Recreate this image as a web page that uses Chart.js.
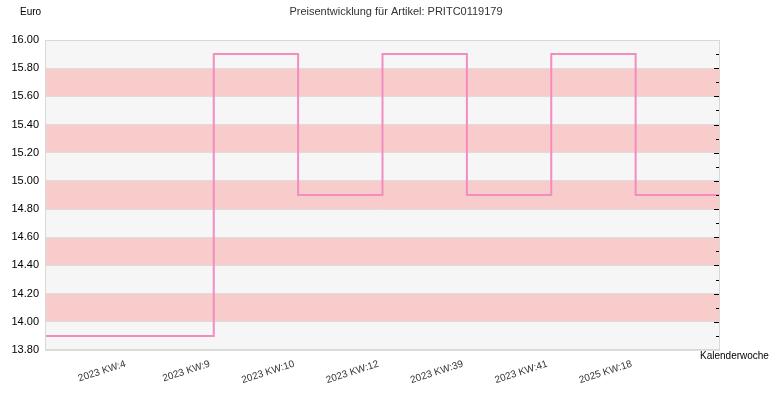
<!DOCTYPE html>
<html>
<head>
<meta charset="utf-8">
<script src="https://cdn.jsdelivr.net/npm/chart.js@4"></script>
<style>
html,body{margin:0;padding:0;background:#fff;}
#wrap{width:770px;height:400px;position:relative;}
</style>
</head>
<body>
<div id="wrap"><canvas id="c" width="770" height="400"></canvas></div>
<script>
const titleText = 'Preisentwicklung für Artikel: PRITC0119179';
const yAxisLabel = 'Euro';
const xAxisLabel = 'Kalenderwoche';
const weeks = ['2023 KW:4','2023 KW:9','2023 KW:10','2023 KW:12','2023 KW:39','2023 KW:41','2025 KW:18'];
const prices = [13.90, 15.90, 14.90, 15.90, 14.90, 15.90, 14.90];
const yMin = 13.80, yMax = 16.00, yStep = 0.20;

// step points: week i at x = i+1, plus extension to both edges
const pts = [{x:0, y:prices[0]}];
prices.forEach((p,i)=>pts.push({x:i+1, y:p}));
pts.push({x:weeks.length+1, y:prices[prices.length-1]});

const bgPlugin = {
  id:'bg',
  beforeDraw(chart){
    const {ctx, chartArea:a, scales:{y}} = chart;
    ctx.save();
    ctx.fillStyle = '#f6f6f6';
    ctx.fillRect(a.left, a.top, a.right-a.left, a.bottom-a.top);
    ctx.fillStyle = '#f9cccc';
    for (let k=0; k*yStep + yMin < yMax - 1e-9; k++){
      const lo = yMin + k*yStep, hi = lo + yStep;
      if (k % 2 === 1){
        const y1 = y.getPixelForValue(hi), y2 = y.getPixelForValue(lo);
        ctx.fillRect(a.left, y1, a.right-a.left, y2-y1);
      }
    }
    ctx.restore();
  },
  afterDraw(chart){
    const {ctx, chartArea:a, scales:{y}} = chart;
    ctx.save();
    ctx.strokeStyle = '#d8d8d8';
    ctx.lineWidth = 1;
    ctx.strokeRect(a.left+0.5, a.top+0.5, a.right-a.left-1, a.bottom-a.top-1);
    // right-side inner ticks
    ctx.strokeStyle = '#000';
    const n = Math.round((yMax-yMin)/(yStep/2));
    for (let k=1;k<n;k++){
      const v = yMin + k*yStep/2;
      const py = Math.round(y.getPixelForValue(v))+0.5;
      const len = (k%2===0)?5:3;
      ctx.beginPath();
      ctx.moveTo(a.right-1-len, py);
      ctx.lineTo(a.right-1, py);
      ctx.stroke();
    }
    ctx.font = '11px "Liberation Sans", Arial, sans-serif';
    ctx.textBaseline = 'middle';
    ctx.textAlign = 'center';
    ctx.fillStyle = '#333';
    ctx.fillText(titleText, 396, 12);
    ctx.fillStyle = '#000';
    ctx.font = '10px "Liberation Sans", Arial, sans-serif';
    ctx.textAlign = 'left';
    ctx.fillText(yAxisLabel, 20, 12);
    ctx.fillText(xAxisLabel, 700, 356);
    ctx.restore();
  }
};

new Chart(document.getElementById('c'), {
  type:'line',
  data:{datasets:[{
    data: pts,
    stepped: true,
    borderColor:'#f48cc0',
    borderWidth:2,
    pointRadius:0,
    fill:false,
  }]},
  options:{
    responsive:false,
    animation:false,
    devicePixelRatio:1,
    layout:{padding:{top:40,right:50,left:0,bottom:0}},
    plugins:{legend:{display:false},tooltip:{enabled:false},title:{display:false}},
    scales:{
      x:{
        type:'linear', min:0, max:weeks.length+1,
        afterBuildTicks(s){ s.ticks = weeks.map((w,i)=>({value:i+1})); },
        afterFit(s){ s.height = 50; },
        grid:{display:false, drawTicks:false},
        border:{display:false},
        ticks:{
          autoSkip:false, minRotation:18, maxRotation:18, padding:8, labelOffset:-4,
          color:'#333',
          font:{family:'"Liberation Sans", Arial, sans-serif', size:10},
          callback:(v)=> weeks[v-1] ?? ''
        }
      },
      y:{
        min:yMin, max:yMax,
        afterBuildTicks(s){
          const t=[]; const n=Math.round((yMax-yMin)/yStep);
          for(let k=0;k<=n;k++) t.push({value: +(yMin+k*yStep).toFixed(2)});
          s.ticks=t;
        },
        afterFit(s){ s.width = 45; },
        grid:{color:'#dddddd', drawTicks:false},
        border:{display:false},
        ticks:{
          padding:6, color:'#000',
          font:{family:'"Liberation Sans", Arial, sans-serif', size:11},
          callback:(v)=> Number(v).toFixed(2)
        }
      }
    }
  },
  plugins:[bgPlugin]
});
</script>
</body>
</html>
